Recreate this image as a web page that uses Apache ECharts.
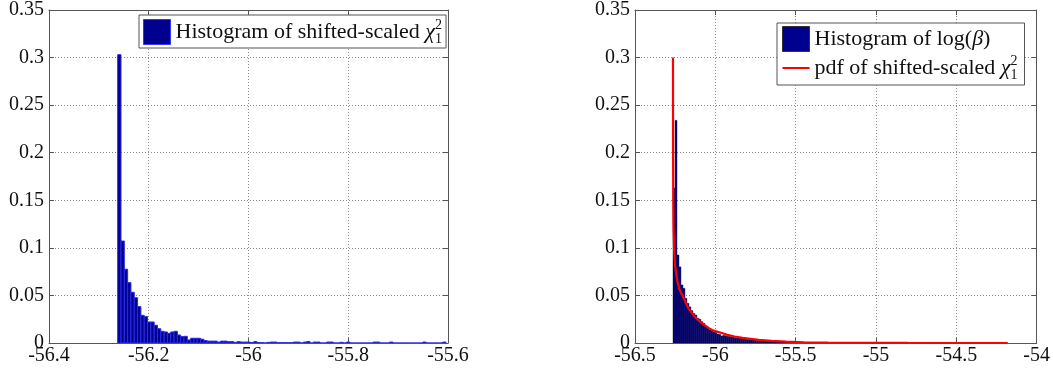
<!DOCTYPE html>
<html>
<head>
<meta charset="utf-8">
<script src="https://cdn.jsdelivr.net/npm/echarts@6/dist/echarts.min.js"></script>
<style>
html,body{margin:0;padding:0;background:#fff;}
#chart{width:1053px;height:374px;}
</style>
</head>
<body>
<div id="chart"></div>
<script>
// ---------- data ----------
const leftXTicks = [-56.4, -56.2, -56, -55.8, -55.6];
const rightXTicks = [-56.5, -56, -55.5, -55, -54.5, -54];
const yTicks = [0, 0.05, 0.1, 0.15, 0.2, 0.25, 0.3, 0.35];

// left histogram (shifted-scaled chi^2_1 samples)
const leftBinStart = -56.2623;
const leftBinWidth = 0.00665;
const leftCounts = [
  0.303, 0.1072, 0.0775, 0.0634, 0.0533, 0.0476, 0.0382, 0.0291, 0.0277, 0.0221,
  0.0221, 0.0186, 0.0150, 0.0123, 0.0116, 0.0102, 0.0116, 0.0123, 0.0084, 0.0067,
  0.0070, 0.0032, 0.0050, 0.0050, 0.0050, 0.0040, 0.0025, 0.0020, 0.0020, 0.0020,
  0.0010, 0.0020, 0.0020, 0.0014, 0.0014, 0.0007, 0.0014, 0.0010, 0.0010, 0.0010,
  0.0004, 0.0014, 0.0004, 0.0004, 0, 0.0007, 0.0010, 0.0010, 0.0003, 0.0003,
  0.0003, 0.0003, 0.0003, 0.0010, 0.0010, 0, 0.0010, 0.0015, 0, 0.0010,
  0.0010, 0, 0, 0.0010, 0.0010, 0, 0, 0.0007, 0, 0.0010,
  0, 0, 0, 0, 0, 0, 0, 0.0010, 0.0010, 0,
  0, 0, 0.0010, 0, 0, 0, 0, 0, 0, 0,
  0, 0, 0.0010, 0, 0, 0, 0, 0, 0.0010
];

// right histogram of log(beta)
const rightBinStart = -56.2635;
const rightBinWidth = 0.0124;
const rightCounts = [
  0.163, 0.234, 0.0925, 0.080, 0.061, 0.0575, 0.047, 0.0417, 0.038, 0.034,
  0.031, 0.0294, 0.026, 0.025, 0.0224, 0.0207, 0.018, 0.0165, 0.0137, 0.013,
  0.0116, 0.011, 0.0095, 0.009, 0.0074, 0.0080, 0.0076, 0.0070, 0.0068, 0.0062,
  0.0060, 0.0055, 0.0052, 0.0050, 0.0046, 0.0044, 0.0040, 0.0038, 0.0036, 0.0033,
  0.0031, 0.0030, 0.0027, 0.0025, 0.0024, 0.0022, 0.0020, 0.0019, 0.0018, 0.0016,
  0.0015, 0.0014, 0.0013, 0.0012, 0.0011, 0.0010, 0.0009, 0.0008, 0.0008, 0.0007,
  0.0006, 0.0005
];

// pdf of shifted-scaled chi^2_1
const pdfX = [-56.2636, -56.2630, -56.2618, -56.2600, -56.2565, -56.2500, -56.2400, -56.2250,
  -56.2000, -56.1700, -56.1300, -56.1000, -56.0700, -56.0400, -56.0100, -55.9600,
  -55.9300, -55.8800, -55.8300, -55.7300, -55.6500, -55.5600, -55.4500, -55.3000,
  -55.1000, -54.8000, -54.1800];
const pdfY = [0.300, 0.200, 0.150, 0.120, 0.097, 0.081, 0.068, 0.057,
  0.048, 0.037, 0.028, 0.023, 0.019, 0.0155, 0.013, 0.0105,
  0.0088, 0.0068, 0.0054, 0.0033, 0.0023, 0.0015, 0.0008, 0.0004,
  0.0002, 0.00005, 0];

// ---------- build ----------
function binData(start, width, counts) {
  return counts.map((h, i) => [start + i * width, start + (i + 1) * width, h]);
}
function step(t) { return Math.round((t[1] - t[0]) * 1e6) / 1e6; }

const FONT = 'Liberation Serif';
const AXIS_COLOR = '#555';
const GRID_COLOR = '#8a8a8a';

function mainX(grid, ticks) {
  return {
    type: 'value', gridIndex: grid, position: 'bottom',
    min: ticks[0], max: ticks[ticks.length - 1], interval: step(ticks),
    axisLine: { show: true, onZero: false, lineStyle: { color: AXIS_COLOR, width: 1 } },
    axisTick: { show: true, inside: true, length: 5, lineStyle: { color: AXIS_COLOR } },
    axisLabel: { show: true, margin: 3, fontFamily: FONT, fontSize: 20, color: '#111' },
    splitLine: { show: true, lineStyle: { color: GRID_COLOR, type: [1, 2], width: 1 } }
  };
}
function topX(grid, ticks) {
  return {
    type: 'value', gridIndex: grid, position: 'top',
    min: ticks[0], max: ticks[ticks.length - 1], interval: step(ticks),
    axisLine: { show: true, onZero: false, lineStyle: { color: AXIS_COLOR, width: 1 } },
    axisTick: { show: true, inside: true, length: 5, lineStyle: { color: AXIS_COLOR } },
    axisLabel: { show: false }, splitLine: { show: false }
  };
}
function mainY(grid) {
  return {
    type: 'value', gridIndex: grid, position: 'left',
    min: yTicks[0], max: yTicks[yTicks.length - 1], interval: step(yTicks),
    axisLine: { show: true, onZero: false, lineStyle: { color: AXIS_COLOR, width: 1 } },
    axisTick: { show: true, inside: true, length: 5, lineStyle: { color: AXIS_COLOR } },
    axisLabel: { show: true, margin: 5, fontFamily: FONT, fontSize: 20, color: '#111' },
    splitLine: { show: true, lineStyle: { color: GRID_COLOR, type: [1, 2], width: 1 } }
  };
}
function rightY(grid) {
  return {
    type: 'value', gridIndex: grid, position: 'right',
    min: yTicks[0], max: yTicks[yTicks.length - 1], interval: step(yTicks),
    axisLine: { show: true, onZero: false, lineStyle: { color: AXIS_COLOR, width: 1 } },
    axisTick: { show: true, inside: true, length: 5, lineStyle: { color: AXIS_COLOR } },
    axisLabel: { show: false }, splitLine: { show: false }
  };
}

function histRender(fill, stroke, lw) {
  return function (params, api) {
    const h = api.value(2);
    const p0 = api.coord([api.value(0), h]);
    const p1 = api.coord([api.value(1), 0]);
    return {
      type: 'rect',
      shape: { x: p0[0], y: p0[1], width: p1[0] - p0[0], height: p1[1] - p0[1] },
      style: { fill: fill, stroke: stroke, lineWidth: lw }
    };
  };
}

const FILL = '#00008F';
const richStyles = {
  t: { fontFamily: FONT, fontSize: 22, color: '#111', lineHeight: 28, verticalAlign: 'middle' },
  it: { fontFamily: FONT, fontSize: 22, fontStyle: 'italic', color: '#111', lineHeight: 28, verticalAlign: 'middle' },
  sup: { fontFamily: FONT, fontSize: 14, color: '#111', lineHeight: 14, verticalAlign: 'top', width: 0, align: 'left' },
  sub: { fontFamily: FONT, fontSize: 14, color: '#111', lineHeight: 14, verticalAlign: 'bottom' }
};
const legendLabels = {
  'hist1': '{t|Histogram of shifted-scaled }{it|χ}{sup|2}{sub|1}',
  'hist2': '{t|Histogram of log(}{it|β}{t|)}',
  'pdf': '{t|pdf of shifted-scaled }{it|χ}{sup|2}{sub|1}'
};
// legend line sample: horizontal stroke across a 27x25 box
const LINE_ICON = 'path://M0,0L0.01,0M0,11.6L27,11.6L27,13.6L0,13.6ZM26.99,25L27,25';

const option = {
  animation: false,
  backgroundColor: '#fff',
  grid: [
    { left: 49, top: 10, width: 399, height: 333 },
    { left: 635, top: 10, width: 405, height: 333 }
  ],
  xAxis: [mainX(0, leftXTicks), topX(0, leftXTicks), mainX(1, rightXTicks), topX(1, rightXTicks)],
  yAxis: [mainY(0), rightY(0), mainY(1), rightY(1)],
  legend: [
    {
      data: [{ name: 'hist1', icon: 'rect', itemStyle: { color: FILL, borderColor: '#3535ff', borderWidth: 1 } }],
      left: 139, top: 15, orient: 'vertical',
      itemWidth: 27, itemHeight: 25, itemGap: 2,
      padding: [3, 4, 2, 4],
      borderColor: '#555', borderWidth: 1, backgroundColor: '#fff',
      selectedMode: false,
      formatter: n => legendLabels[n],
      textStyle: { fontFamily: FONT, fontSize: 22, color: '#111', rich: richStyles }
    },
    {
      data: [
        { name: 'hist2', icon: 'rect', itemStyle: { color: FILL, borderColor: '#333', borderWidth: 1 } },
        { name: 'pdf', icon: LINE_ICON, itemStyle: { color: '#ff0000', borderWidth: 0 } }
      ],
      left: 777, top: 23, orient: 'vertical',
      itemWidth: 27, itemHeight: 25, itemGap: 2,
      padding: [3, 7, 3, 5],
      borderColor: '#555', borderWidth: 1, backgroundColor: '#fff',
      selectedMode: false,
      formatter: n => legendLabels[n],
      textStyle: { fontFamily: FONT, fontSize: 22, color: '#111', rich: richStyles }
    }
  ],
  series: [
    {
      name: 'hist1', type: 'custom', xAxisIndex: 0, yAxisIndex: 0,
      renderItem: histRender(FILL, '#2a2ae8', 1),
      itemStyle: { color: FILL },
      encode: { x: [0, 1], y: 2 },
      data: binData(leftBinStart, leftBinWidth, leftCounts),
      clip: true, z: 2
    },
    {
      name: 'hist2', type: 'custom', xAxisIndex: 2, yAxisIndex: 2,
      renderItem: histRender(FILL, '#0a0a30', 0.4),
      itemStyle: { color: FILL },
      encode: { x: [0, 1], y: 2 },
      data: binData(rightBinStart, rightBinWidth, rightCounts),
      clip: true, z: 2
    },
    {
      name: 'pdf', type: 'line', xAxisIndex: 2, yAxisIndex: 2,
      data: pdfX.map((x, i) => [x, pdfY[i]]),
      showSymbol: false, symbol: 'none',
      lineStyle: { color: '#ff0000', width: 2.2 },
      itemStyle: { color: '#ff0000' },
      z: 4
    }
  ]
};

const chart = echarts.init(document.getElementById('chart'), null, { renderer: 'canvas' });
chart.setOption(option);
</script>
</body>
</html>
